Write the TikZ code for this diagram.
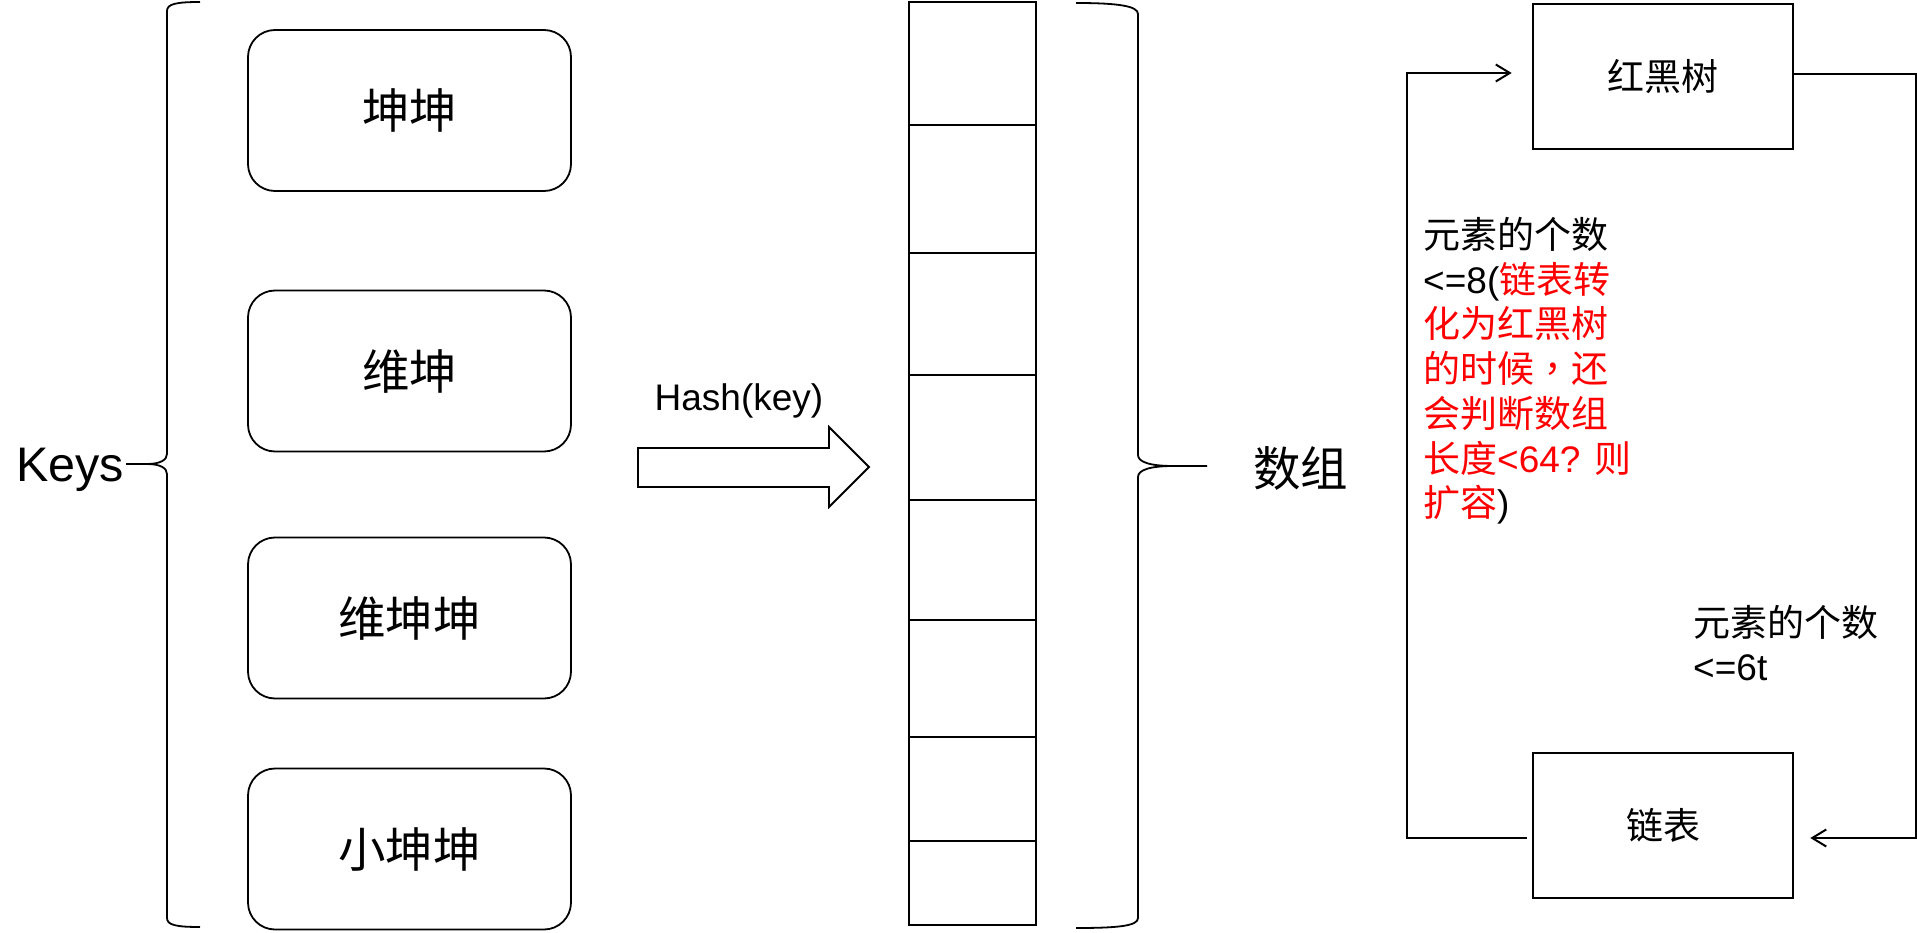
\documentclass[tikz,border=0pt]{standalone}
\usepackage{fontspec}
\setmainfont{Liberation Sans}
\newfontfamily\cjk{Noto Sans CJK SC}
\newfontfamily\cjktc{Noto Sans CJK TC}
\usetikzlibrary{arrows.meta}
\tikzset{
  rbox/.style={draw, line width=1.8pt, rounded corners=27pt, minimum width=323pt, minimum height=161pt, inner sep=0pt, font=\cjk\fontsize{47.5}{57}\selectfont},
  sbox/.style={draw, line width=2.6pt, minimum width=260pt, minimum height=145pt, inner sep=0pt, font=\cjk\fontsize{37}{44}\selectfont},
  conn/.style={line width=2pt},
  barb/.style={-{Straight Barb[length=14pt,width=17pt]}},
  bracepath/.style={line width=1.8pt},
  cell/.style={line width=2pt},
  txt/.style={inner sep=0pt, font=\fontsize{37}{44.7}\selectfont},
  bigtxt/.style={inner sep=0pt, font=\fontsize{48.5}{58}\selectfont},
}
\begin{document}
\begin{tikzpicture}[x=1pt,y=-1pt]
\useasboundingbox[fill=white] (0,0) rectangle (1917,933);

% Keys and left brace
\node[bigtxt, anchor=base west] (keys) at (16,481) {Keys};
\draw[bracepath] (200,2) .. controls (176,2) and (167,4) .. (167,11) -- (167,454)
  .. controls (167,460) and (160,464) .. (147,464) -- (126,464)
  (147,464) .. controls (160,464) and (167,468) .. (167,474) -- (167,918)
  .. controls (167,925) and (176,927) .. (200,927);

% key boxes
\node[rbox] (k1) at (409.5,110.5) {坤坤};
\node[rbox] (k2) at (409.5,371) {维坤};
\node[rbox] (k3) at (409.5,618) {维坤坤};
\node[rbox] (k4) at (409.5,849) {小坤坤};

% hash arrow
\node[txt, anchor=base] (hash) at (739,410) {Hash(key)};
\draw[line width=1.8pt, line join=miter] (638,448) -- (829,448) -- (829,427) -- (869,467) -- (829,507) -- (829,487) -- (638,487) -- cycle;

% array column
\draw[cell] (909,2) rectangle (1036,925);
\foreach \yy in {125,253,375,500,620,737,841}
  \draw[cell] (909,\yy) -- (1036,\yy);

% right brace
\draw[bracepath] (1076,3) .. controls (1118,3) and (1138,6) .. (1138,14) -- (1138,455)
  .. controls (1138,462) and (1150,466) .. (1173,466) -- (1207,466)
  (1173,466) .. controls (1150,466) and (1138,470) .. (1138,477) -- (1138,918)
  .. controls (1138,926) and (1118,928) .. (1076,928);
\node[inner sep=0pt, font=\cjk\fontsize{47.5}{57}\selectfont] (arr) at (1300.5,468) {数组};

% red-black tree and linked list
\node[sbox] (rb) at (1663,76.5) {红黑树};
\node[sbox] (ll) at (1663,825.5) {链表};

\coordinate (lt) at (1407,73);
\coordinate (lb) at (1407,838);
\coordinate (rt) at (1916,74);
\coordinate (rbt) at (1916,838);

\draw[conn, barb] ([shift={(-5pt,-12.5pt)}]ll.west) -- (lb) -- (lt) -- ([shift={(-20pt,3.5pt)}]rb.west);
\draw[conn, barb] ([yshift=2.5pt]rb.east) -- (rt) -- (rbt) -- ([shift={(16pt,-12.5pt)}]ll.east);

% condition texts
\node[txt, anchor=base west] (a1) at (1423,248.5) {\cjk 元素的个数};
\node[txt, anchor=base west] (a2) at (1423,293.2) {<=8(\textcolor{red}{\cjk 链表转}};
\node[txt, anchor=base west, text=red] (a3) at (1423,337.9) {\cjk 化为红黑树};
\node[txt, anchor=base west, text=red] (a4) at (1423,382.6) {{\cjk 的时候}{\cjktc ，}{\cjk 还}};
\node[txt, anchor=base west, text=red] (a5) at (1423,427.3) {\cjk 会判断数组};
\node[txt, anchor=base west, text=red] (a6) at (1423,472) {{\cjk 长度}<64? {\cjk 则}};
\node[txt, anchor=base west] (a7) at (1423,516.7) {\textcolor{red}{\cjk 扩容})};

\node[txt, anchor=base west] (b1) at (1693,636.5) {\cjk 元素的个数};
\node[txt, anchor=base west] (b2) at (1693,680) {<=6t};
\end{tikzpicture}
\end{document}
